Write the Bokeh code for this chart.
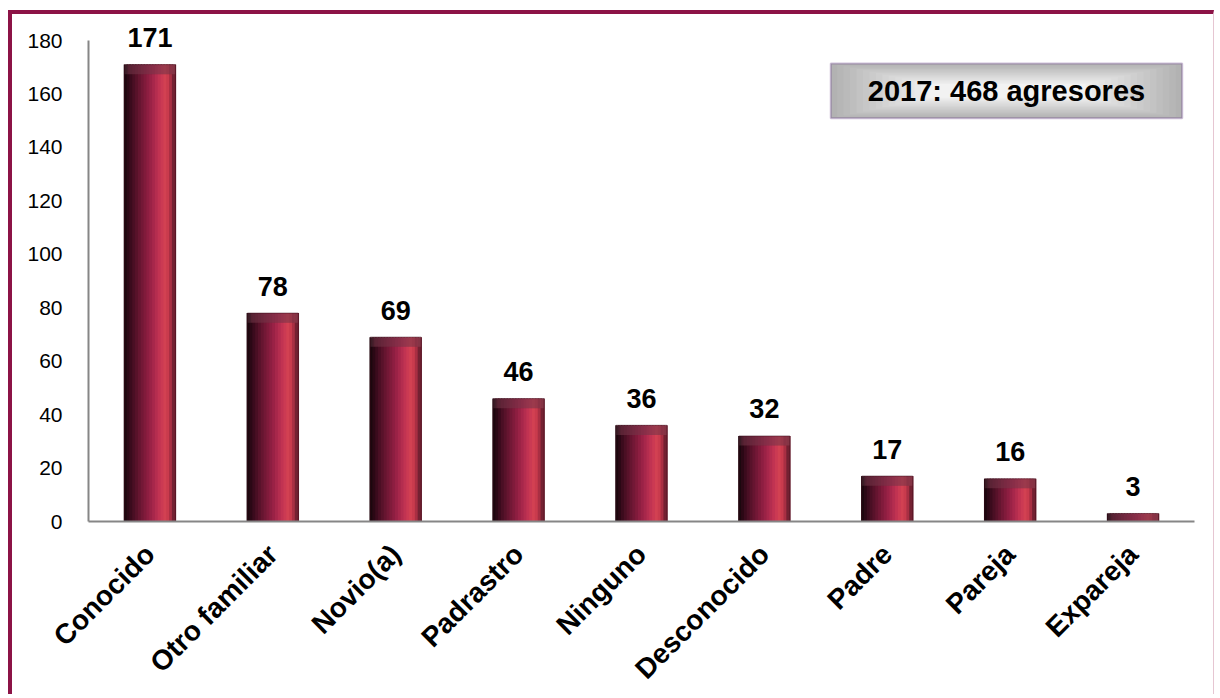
import math
from bokeh.plotting import figure
from bokeh.models import Range1d, FactorRange, FixedTicker, ColumnDataSource, BoxAnnotation, Label
from bokeh.transform import dodge
from bokeh.embed import file_html
from bokeh.resources import INLINE

categories = ["Conocido", "Otro familiar", "Novio(a)", "Padrastro", "Ninguno",
              "Desconocido", "Padre", "Pareja", "Expareja"]
values = [171, 78, 69, 46, 36, 32, 17, 16, 3]
y_ticks = [0, 20, 40, 60, 80, 100, 120, 140, 160, 180]
box_text = "2017: 468 agresores"

FONT = "Liberation Sans"

p = figure(width=1206, height=684, output_backend="svg", toolbar_location=None,
           x_range=FactorRange(*categories), y_range=Range1d(0, 189),
           min_border_left=76, min_border_top=2, min_border_right=24, min_border_bottom=175)
p.styles = {"border-top": "4px solid #8C1346", "border-left": "4px solid #8C1346",
            "border-right": "1px solid #E6C6D2", "margin-left": "8px", "margin-top": "10px"}
p.background_fill_color = "white"
p.border_fill_color = "white"
p.outline_line_color = None
p.grid.visible = False

src = ColumnDataSource(dict(cat=categories, val=values,
                            cap=[v - min(v, 3.6) for v in values],
                            lbl=[str(v) for v in values]))

# bar body made of vertical strips (left dark -> right bright)
strip_colors = ["#1c070e", "#2b0815", "#3b0b1d", "#4a0f24", "#58122a", "#661530",
                "#731836", "#801b3b", "#8d1e41", "#9a2246", "#a7274b", "#b42d4f",
                "#c13352", "#cb3a53", "#d24152", "#c93b4d", "#a92f43", "#742132"]
bw = 0.415
n = len(strip_colors)
sw = bw / n
for i, c in enumerate(strip_colors):
    off = -bw / 2 + sw * (i + 0.5)
    p.vbar(x=dodge("cat", off, range=p.x_range), top="val", bottom=0, width=sw * 1.5,
           source=src, fill_color=c, line_color=None)

# top bevel cap
p.vbar(x=dodge("cat", 0, range=p.x_range), top="val", bottom="cap", width=bw * 0.86,
       source=src, fill_color="#4a0f22", fill_alpha=0.5, line_color=None)
p.vbar(x=dodge("cat", 0, range=p.x_range), top="val", bottom="cap", width=bw,
       source=src, fill_color="#e9a0b4", fill_alpha=0.15, line_color=None)
# outline
p.vbar(x="cat", top="val", bottom=0, width=bw, source=src, fill_alpha=0,
       line_color="#3a0a18", line_alpha=0.5, line_width=1)

# value labels
p.text(x="cat", y="val", text="lbl", source=src, text_align="center",
       text_baseline="alphabetic", y_offset=-27, text_font_size="27px",
       text_font_style="bold", text_color="black", text_font={"value": FONT})

# annotation box with grey gradient
box_l, box_r, box_b, box_t = 6.04, 8.90, 150.9, 171.4
cx = (box_l + box_r) / 2
cy = (box_b + box_t) / 2
steps = 16
for i in range(steps):
    t = i / (steps - 1)
    g = int(0xb2 + (0xf2 - 0xb2) * t)
    col = "#%02x%02x%02x" % (g, g, g)
    fw = 1 - t * 0.55
    fh = 1 - t * 0.75
    hw = (box_r - box_l) / 2 * fw
    hh = (box_t - box_b) / 2 * fh
    p.add_layout(BoxAnnotation(left=cx - hw, right=cx + hw, bottom=cy - hh, top=cy + hh,
                               fill_color=col, fill_alpha=1, line_color=None, level="annotation"))
p.add_layout(BoxAnnotation(left=box_l, right=box_r, bottom=box_b, top=box_t,
                           fill_alpha=0, line_color="#5c2d82", line_width=2, level="annotation"))
p.add_layout(Label(x=cx, y=cy, text=box_text, text_align="center", text_baseline="middle",
                   text_font=FONT, text_font_size="29px", text_font_style="bold",
                   text_color="black", level="annotation"))

# axes
p.yaxis.ticker = FixedTicker(ticks=y_ticks)
p.yaxis.bounds = (0, 180)
p.yaxis.major_label_text_font = FONT
p.yaxis.major_label_text_font_size = "21px"
p.yaxis.major_label_text_color = "black"
p.yaxis.major_tick_line_color = None
p.yaxis.minor_tick_line_color = None
p.yaxis.axis_line_color = "#868686"
p.yaxis.axis_line_width = 2
p.yaxis.major_label_standoff = 20

p.xaxis.major_label_orientation = math.pi / 4
p.xaxis.major_label_text_font = FONT
p.xaxis.major_label_text_font_size = "28px"
p.xaxis.major_label_text_font_style = "bold"
p.xaxis.major_label_text_color = "black"
p.xaxis.major_tick_line_color = None
p.xaxis.axis_line_color = "#868686"
p.xaxis.axis_line_width = 2
p.xaxis.major_label_standoff = 22

open("out.html", "w").write(file_html(p, INLINE))
